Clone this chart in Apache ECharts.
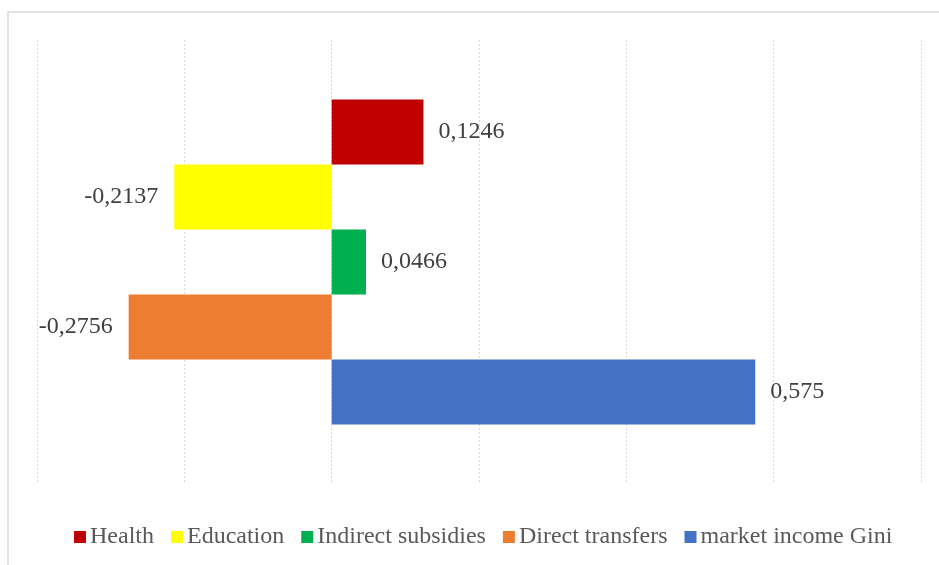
<!DOCTYPE html>
<html>
<head>
<meta charset="utf-8">
<script src="https://cdn.jsdelivr.net/npm/echarts@6/dist/echarts.min.js"></script>
<style>html,body{margin:0;padding:0;background:#fff;}#chart{width:939px;height:565px;}</style>
</head>
<body>
<div id="chart"></div>
<script>
const seriesNames = ['Health', 'Education', 'Indirect subsidies', 'Direct transfers', 'market income Gini'];
const seriesValues = [0.1246, -0.2137, 0.0466, -0.2756, 0.575];
const seriesColors = ['#C00000', '#FFFF00', '#00B050', '#ED7D31', '#4472C4'];
const categories = [''];

const chart = echarts.init(document.getElementById('chart'));
const fontFamily = '"Liberation Serif", "Times New Roman", serif';

const series = seriesNames.map((name, i) => ({
  name: name,
  type: 'bar',
  barGap: '0%',
  barCategoryGap: '26.8%',
  itemStyle: { color: seriesColors[i] },
  label: {
    show: true,
    position: seriesValues[i] < 0 ? 'left' : 'right',
    distance: seriesValues[i] < 0 ? 16 : 15,
    fontFamily: fontFamily,
    fontSize: 24,
    color: '#404040',
    formatter: p => String(p.value).replace('.', ',')
  },
  data: [seriesValues[i]]
}));

chart.setOption({
  animation: false,
  backgroundColor: '#fff',
  graphic: [{
    type: 'rect',
    shape: { x: 8, y: 12, width: 940, height: 560 },
    style: { fill: 'none', stroke: '#d9d9d9', lineWidth: 1.5 },
    silent: true
  }],
  grid: { left: 37, right: 18, top: 40, bottom: 81, containLabel: false },
  legend: {
    data: seriesNames,
    bottom: 11,
    left: 69,
    itemWidth: 12,
    itemHeight: 12,
    itemGap: 17,
    icon: 'rect',
    textStyle: { fontFamily: fontFamily, fontSize: 24, color: '#595959', padding: [0, 0, 0, -1] }
  },
  xAxis: {
    type: 'value',
    min: -0.4,
    max: 0.8,
    interval: 0.2,
    axisLabel: { show: false },
    axisLine: { show: false },
    axisTick: { show: false },
    splitLine: { show: true, lineStyle: { color: '#d9d9d9', type: [2, 2], width: 1 } }
  },
  yAxis: {
    type: 'category',
    data: categories,
    inverse: true,
    axisLabel: { show: false },
    axisLine: { show: false },
    axisTick: { show: false }
  },
  series: series
});
</script>
</body>
</html>
